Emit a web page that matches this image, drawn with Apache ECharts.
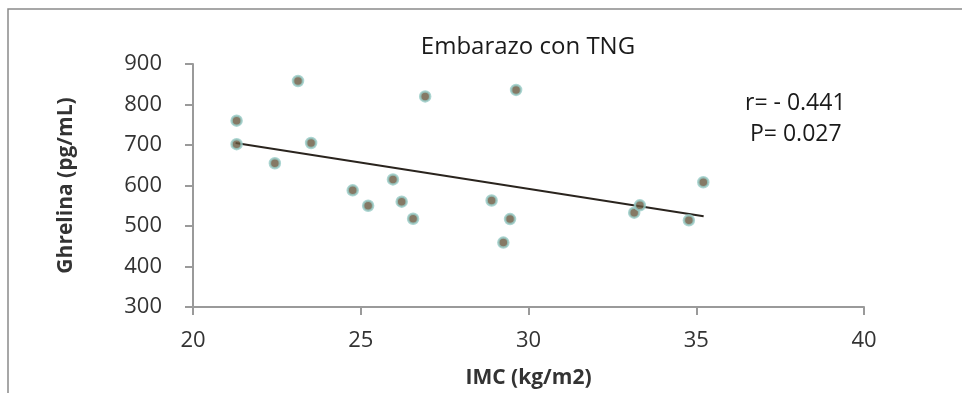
<!DOCTYPE html>
<html>
<head>
<meta charset="utf-8">
<script src="https://cdn.jsdelivr.net/npm/echarts@6/dist/echarts.min.js"></script>
<style>
  html, body { margin: 0; padding: 0; background: #fff; }
  #main { width: 962px; height: 393px; }
</style>
</head>
<body>
<div id="main"></div>
<script>
var myChart = echarts.init(document.getElementById('main'));

// IMC (kg/m2) vs Ghrelina (pg/mL)
var imc = [21.3, 21.3, 22.44, 23.13, 23.52, 24.76, 25.22, 25.96, 26.22, 26.56,
           26.92, 28.9, 29.25, 29.45, 29.63, 33.15, 33.32, 34.78, 35.21];
var ghrelina = [760, 702, 655, 858, 705, 588, 550, 615, 560, 518,
                820, 563, 459, 517, 836, 533, 551, 514, 608];
// regression line ends
var trendX = [21.27, 35.22];
var trendY = [705, 524];

var points = [];
for (var i = 0; i < imc.length; i++) {
  points.push([imc[i], ghrelina[i]]);
}
var trend = [[trendX[0], trendY[0]], [trendX[1], trendY[1]]];

var font = '"Open Sans", "Noto Sans", sans-serif';

option = {
  animation: false,
  backgroundColor: '#fff',
  title: {
    text: 'Embarazo con TNG',
    left: 523,
    textAlign: 'center',
    top: 30,
    textStyle: { fontFamily: font, fontSize: 24, fontWeight: 'normal', color: '#1a1a1a' }
  },
  grid: {
    left: 193,
    right: 98,
    top: 64,
    bottom: 86,
    outerBoundsMode: 'none'
  },
  xAxis: {
    type: 'value',
    min: 20,
    max: 40,
    interval: 5,
    name: 'IMC (kg/m2)',
    nameLocation: 'middle',
    nameGap: 61,
    nameTextStyle: { fontFamily: font, fontSize: 21, fontWeight: 'bold', color: '#333' },
    axisLine: { show: true, lineStyle: { color: '#9a9a9a', width: 2 } },
    axisTick: { show: true, length: 8, lineStyle: { color: '#9a9a9a', width: 2 } },
    axisLabel: { margin: 23, fontFamily: font, fontSize: 22, color: '#333' },
    splitLine: { show: false }
  },
  yAxis: {
    type: 'value',
    min: 300,
    max: 900,
    interval: 100,
    name: 'Ghrelina (pg/mL)',
    nameLocation: 'middle',
    nameGap: 116,
    nameTextStyle: { fontFamily: font, fontSize: 21, fontWeight: 'bold', color: '#333' },
    axisLine: { show: true, lineStyle: { color: '#9a9a9a', width: 2 } },
    axisTick: { show: true, length: 8, lineStyle: { color: '#9a9a9a', width: 2 } },
    axisLabel: { margin: 31, fontFamily: font, fontSize: 22, color: '#333' },
    splitLine: { show: false }
  },
  graphic: [
    {
      type: 'rect',
      shape: { x: 8, y: 9, width: 1100, height: 600 },
      style: { fill: 'none', stroke: '#8a8a8a', lineWidth: 1.5 },
      silent: true
    },
    {
      type: 'text',
      left: 745,
      top: 92,
      style: { text: 'r= - 0.441', fontFamily: font, fontSize: 23, fill: '#1a1a1a' }
    },
    {
      type: 'text',
      left: 750,
      top: 123,
      style: { text: 'P= 0.027', fontFamily: font, fontSize: 23, fill: '#1a1a1a' }
    }
  ],
  series: [
    {
      name: 'trend',
      type: 'line',
      data: trend,
      symbol: 'none',
      lineStyle: { color: '#2a241e', width: 2 },
      z: 1
    },
    {
      name: 'Ghrelina',
      type: 'scatter',
      data: points,
      symbolSize: 10,
      itemStyle: {
        color: '#66583f',
        borderColor: '#96cbc6',
        borderWidth: 2.5
      },
      z: 3
    }
  ]
};

myChart.setOption(option);
</script>
</body>
</html>
